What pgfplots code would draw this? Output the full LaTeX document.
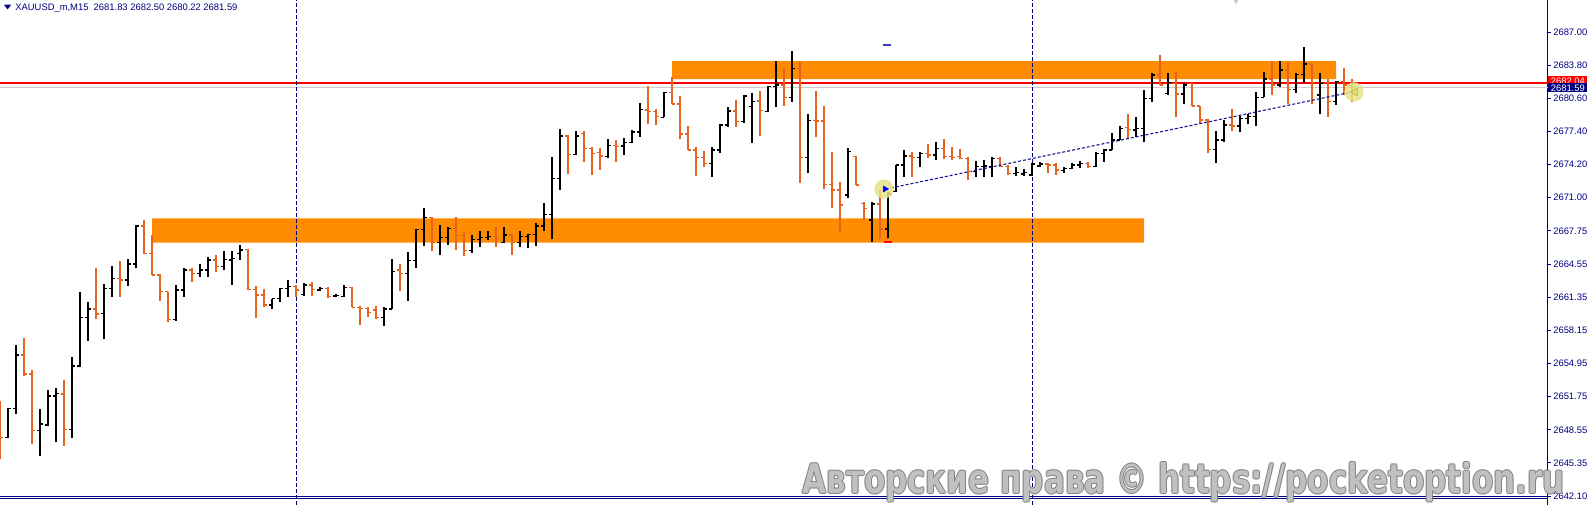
\documentclass[border=0pt]{standalone}
\usepackage{fontspec}
\setmainfont{Liberation Sans}
\newfontfamily\wmfont{DejaVu Sans}
\usepackage{pgfplots}
\pgfplotsset{compat=1.18}
\usepackage{pgfplotstable}
\definecolor{barorange}{RGB}{232,100,30}
\definecolor{zone}{RGB}{255,140,0}
\definecolor{mtnavy}{RGB}{0,0,128}
\definecolor{trend}{RGB}{20,20,150}
\definecolor{hilite}{RGB}{228,228,140}
\definecolor{bidgray}{RGB}{205,205,205}
\definecolor{olivemark}{RGB}{190,190,60}
\definecolor{bluemark}{RGB}{60,60,200}
\definecolor{wmdark}{RGB}{120,120,120}
\definecolor{wmlight}{RGB}{200,200,200}
\pgfdeclareplotmark{otick}{\pgfpathmoveto{\pgfpoint{-1.6pt}{0pt}}\pgfpathlineto{\pgfpoint{0pt}{0pt}}\pgfusepathqstroke}
\pgfdeclareplotmark{ctick}{\pgfpathmoveto{\pgfpoint{0pt}{0pt}}\pgfpathlineto{\pgfpoint{1.6pt}{0pt}}\pgfusepathqstroke}

% bullish bars (close above open)
\pgfplotstableread{
x O H L C
8 2647.88 2650.67 2647.78 2650.67
16 2650.67 2656.79 2650.10 2655.82
40 2648.52 2650.61 2646.11 2649.16
48 2649.07 2652.44 2648.97 2651.87
56 2651.87 2652.61 2647.46 2652.12
72 2648.65 2655.63 2647.84 2654.76
80 2654.76 2661.94 2654.70 2659.46
88 2659.46 2660.94 2657.21 2660.26
104 2659.84 2662.64 2657.34 2662.23
112 2662.23 2664.41 2661.45 2663.22
128 2663.06 2665.06 2662.48 2664.61
136 2664.61 2668.34 2664.19 2668.27
176 2659.27 2662.58 2659.14 2662.10
184 2662.10 2664.19 2661.45 2664.03
200 2663.71 2664.57 2663.32 2664.03
208 2664.03 2665.31 2663.38 2664.99
224 2664.35 2665.89 2664.03 2665.06
232 2664.99 2665.89 2662.58 2665.15
240 2665.64 2666.44 2664.99 2665.96
272 2660.65 2661.26 2660.23 2661.26
280 2661.26 2662.32 2660.91 2662.26
288 2662.26 2663.06 2661.45 2662.42
304 2661.68 2662.74 2661.52 2662.58
320 2662.10 2662.42 2662.03 2662.26
336 2661.52 2661.71 2661.39 2661.58
344 2661.45 2662.55 2661.39 2662.35
384 2659.46 2660.42 2658.65 2660.26
392 2660.26 2665.06 2660.23 2663.87
408 2663.71 2665.73 2661.07 2664.96
416 2664.96 2667.95 2664.25 2667.95
424 2667.95 2669.98 2666.38 2669.11
440 2666.70 2668.34 2665.51 2667.18
448 2667.18 2668.21 2666.47 2668.05
472 2665.93 2667.37 2665.64 2666.99
480 2666.99 2667.76 2666.28 2667.15
488 2667.18 2667.76 2666.89 2667.24
504 2666.67 2668.15 2666.60 2667.41
520 2666.67 2667.76 2666.22 2667.24
528 2667.24 2667.50 2666.12 2667.44
536 2667.44 2668.56 2666.38 2668.27
544 2668.27 2670.46 2667.82 2669.40
552 2669.40 2674.90 2666.99 2672.88
560 2672.88 2677.60 2671.78 2676.96
576 2675.19 2677.48 2675.13 2676.96
608 2674.97 2676.64 2674.81 2676.06
624 2676.00 2676.74 2675.13 2676.35
632 2676.35 2677.54 2676.25 2677.35
640 2677.35 2680.11 2676.90 2679.54
664 2678.76 2681.24 2678.76 2681.14
712 2674.32 2675.87 2672.97 2675.61
720 2675.61 2678.12 2675.29 2678.02
728 2678.02 2679.79 2677.86 2679.38
744 2678.35 2680.92 2678.18 2680.82
752 2679.79 2681.14 2676.32 2680.28
768 2679.31 2681.79 2679.25 2681.72
776 2681.72 2684.20 2679.79 2681.88
792 2680.69 2685.17 2680.28 2683.49
808 2674.90 2679.09 2673.36 2678.44
848 2671.27 2675.77 2670.95 2675.45
872 2668.85 2670.56 2666.76 2670.40
888 2667.99 2671.59 2667.08 2671.36
896 2671.59 2674.16 2671.59 2674.16
904 2674.16 2675.61 2673.04 2675.03
920 2674.90 2675.45 2673.94 2675.29
936 2675.13 2676.41 2674.65 2675.77
976 2673.52 2674.58 2673.04 2674.00
984 2674.00 2674.65 2672.97 2674.07
992 2674.00 2674.97 2672.97 2674.81
1016 2673.36 2673.94 2673.10 2673.42
1024 2673.29 2673.81 2673.10 2673.46
1032 2673.20 2674.32 2673.10 2674.26
1040 2674.07 2674.48 2673.94 2674.26
1064 2673.62 2674.00 2673.42 2673.84
1072 2673.84 2674.32 2673.74 2674.16
1080 2674.16 2674.58 2673.84 2674.32
1096 2674.00 2675.45 2674.00 2675.29
1104 2675.29 2675.68 2674.48 2675.61
1112 2675.61 2677.22 2675.61 2676.58
1120 2676.58 2677.93 2676.58 2677.70
1136 2677.54 2678.76 2676.90 2677.70
1144 2677.70 2681.40 2676.41 2680.60
1152 2680.60 2683.01 2680.28 2682.85
1168 2681.08 2683.01 2680.92 2682.11
1184 2681.02 2682.05 2680.05 2681.88
1216 2675.68 2677.48 2674.39 2676.58
1224 2676.58 2678.51 2676.41 2678.02
1240 2677.93 2678.89 2677.38 2678.67
1248 2678.67 2679.09 2678.12 2678.83
1256 2678.83 2681.24 2677.93 2680.69
1264 2680.69 2683.11 2680.69 2682.46
1280 2681.88 2684.20 2681.66 2683.33
1296 2681.47 2683.08 2681.08 2682.91
1304 2682.91 2685.58 2682.11 2683.91
1320 2680.92 2683.01 2679.09 2682.05
1336 2680.28 2682.30 2679.95 2682.21
}\upbars

% bearish bars (close below open)
\pgfplotstableread{
x O H L C
0 2650.84 2651.38 2645.75 2647.88
24 2655.82 2657.50 2653.80 2653.99
32 2653.99 2654.37 2647.20 2648.52
64 2652.06 2653.41 2647.07 2648.65
96 2660.26 2664.22 2659.27 2659.78
120 2663.22 2664.93 2661.39 2663.06
144 2668.27 2668.85 2665.57 2665.64
152 2665.64 2667.41 2663.55 2663.55
160 2663.55 2663.64 2661.07 2661.94
168 2661.94 2661.94 2659.04 2659.27
192 2664.03 2664.19 2662.90 2663.71
216 2664.99 2665.48 2663.87 2664.35
248 2666.02 2666.05 2662.10 2662.16
256 2662.16 2662.48 2659.43 2661.61
264 2661.61 2662.16 2660.42 2660.65
296 2662.42 2662.58 2661.45 2662.10
312 2662.58 2662.90 2661.55 2662.16
328 2662.26 2662.35 2661.29 2661.45
352 2662.35 2662.35 2660.42 2660.42
360 2660.42 2660.55 2658.72 2660.33
368 2660.33 2660.42 2659.46 2659.91
376 2660.17 2660.55 2659.27 2659.46
400 2664.03 2664.61 2662.03 2663.71
432 2669.11 2669.18 2665.89 2666.70
456 2668.05 2669.11 2665.99 2667.37
464 2667.37 2667.66 2665.35 2665.93
496 2667.24 2668.15 2666.28 2667.08
512 2667.41 2667.50 2665.51 2666.67
568 2676.96 2677.06 2673.29 2675.19
584 2677.22 2677.48 2674.48 2675.77
592 2675.77 2675.87 2673.20 2675.29
600 2675.35 2675.77 2673.68 2675.03
616 2676.06 2676.58 2674.48 2675.93
648 2679.47 2681.79 2678.12 2679.31
656 2679.31 2679.54 2678.02 2678.83
672 2681.14 2682.69 2680.05 2680.05
680 2680.05 2680.82 2676.64 2677.16
688 2677.16 2677.93 2675.61 2675.61
696 2675.61 2675.87 2673.10 2674.90
704 2674.90 2675.55 2674.00 2674.32
736 2679.38 2680.44 2677.86 2678.35
760 2680.34 2681.31 2677.00 2679.41
784 2681.88 2683.49 2679.89 2680.69
800 2683.49 2684.14 2672.46 2674.90
816 2678.44 2681.31 2676.90 2678.41
824 2678.41 2679.86 2671.81 2672.30
832 2672.30 2675.45 2669.98 2671.75
840 2671.75 2672.55 2667.57 2670.30
856 2674.97 2675.03 2672.23 2672.23
864 2670.46 2670.62 2668.85 2669.98
880 2670.40 2671.75 2667.02 2667.99
912 2675.03 2675.45 2673.04 2674.90
928 2675.29 2676.19 2674.81 2675.13
944 2675.77 2676.64 2674.71 2674.97
952 2674.97 2675.87 2674.65 2674.90
960 2674.97 2675.71 2674.71 2674.81
968 2674.81 2674.97 2672.71 2673.52
1000 2674.81 2674.97 2674.00 2674.00
1008 2674.00 2674.16 2673.20 2673.36
1048 2674.26 2674.39 2673.42 2674.16
1056 2674.16 2674.32 2673.20 2673.68
1088 2674.32 2674.45 2673.84 2674.00
1128 2677.80 2679.09 2676.64 2677.61
1160 2682.85 2684.78 2681.88 2681.88
1176 2682.05 2683.17 2678.76 2681.02
1192 2682.05 2682.11 2679.86 2679.86
1200 2679.86 2679.86 2678.18 2678.51
1208 2678.51 2678.57 2675.35 2675.68
1232 2678.02 2679.57 2677.48 2677.93
1272 2682.46 2684.20 2680.92 2681.88
1288 2683.33 2684.14 2680.02 2681.47
1312 2683.91 2683.91 2680.02 2682.11
1328 2682.11 2682.46 2678.83 2680.28
1344 2682.21 2683.49 2680.92 2681.88
1352 2681.83 2682.50 2680.22 2681.59
}\downbars

\newcommand{\wmtext}{\resizebox{381pt}{15.5pt}{\wmfont\bfseries Авторские права © https://pocketoption.ru}}

\begin{document}
\begin{tikzpicture}
\begin{axis}[
  at={(0pt,4pt)}, anchor=south west,
  scale only axis, width=773.85pt, height=248.5pt,
  xmin=0, xmax=1547.7, ymin=2642.116, ymax=2690.089,
  clip=false,
  axis x line=none, axis y line*=right,
  y axis line style={draw=mtnavy, line width=0.6pt},
  ytick={2687.0,2683.8,2680.6,2677.4,2674.2,2671.0,2667.8,2664.6,2661.4,2658.2,2655.0,2651.8,2648.6,2645.4,2642.2},
  yticklabels={2687.00,2683.80,2680.60,2677.40,2674.20,2671.00,2667.75,2664.55,2661.35,2658.15,2654.95,2651.75,2648.55,2645.35,2642.10},
  tick align=outside, major tick length=1.6pt,
  ytick style={draw=mtnavy, line width=0.5pt},
  yticklabel style={font=\fontsize{4.7}{5}\selectfont, text=mtnavy, inner sep=0pt, anchor=west, xshift=1pt},
]
% zones
\addplot[draw=none, fill=zone] coordinates {(152,2669.02) (1144,2669.02) (1144,2666.66) (152,2666.66) (152,2669.02)};
\addplot[draw=none, fill=zone] coordinates {(672,2684.20) (1336,2684.20) (1336,2682.46) (672,2682.46) (672,2684.20)};
% horizontal price lines
\addplot[bidgray, line width=0.5pt] coordinates {(0,2681.64) (1547.7,2681.64)};
\addplot[red, line width=1pt] coordinates {(0,2682.12) (1547.7,2682.12)};
% period separators
\addplot[mtnavy, line width=0.45pt, dash pattern=on 2pt off 1pt] coordinates {(296,2641.34) (296,2690.089)};
\addplot[mtnavy, line width=0.45pt, dash pattern=on 2pt off 1pt] coordinates {(1032,2641.34) (1032,2690.089)};
% bars: high-low
\addplot[draw=none, error bars/.cd, y dir=plus, y explicit, error mark=none,
  error bar style={draw=black, line width=0.65pt}]
  table[x=x, y=L, y error expr=\thisrow{H}-\thisrow{L}] {\upbars};
\addplot[draw=none, error bars/.cd, y dir=plus, y explicit, error mark=none,
  error bar style={draw=barorange, line width=0.65pt}]
  table[x=x, y=L, y error expr=\thisrow{H}-\thisrow{L}] {\downbars};
% open / close ticks
\addplot[black, only marks, mark=otick, mark options={line width=0.65pt}] table[x=x, y=O] {\upbars};
\addplot[black, only marks, mark=ctick, mark options={line width=0.65pt}] table[x=x, y=C] {\upbars};
\addplot[barorange, only marks, mark=otick, mark options={line width=0.65pt}] table[x=x, y=O] {\downbars};
\addplot[barorange, only marks, mark=ctick, mark options={line width=0.65pt}] table[x=x, y=C] {\downbars};
% trend line and markers
\addplot[trend, line width=0.55pt, dash pattern=on 1.5pt off 1pt] coordinates {(886,2671.85) (1352,2681.21)};
\addplot[hilite, only marks, mark=*, mark size=4.6pt, mark options={draw=hilite, fill=hilite, opacity=0.85}] coordinates {(884,2671.85) (1354,2681.21)};
\addplot[blue, only marks, mark=triangle*, mark size=1.6pt, mark options={rotate=-90, draw=blue, fill=blue}] coordinates {(885,2671.85)};
\addplot[blue, only marks, mark=|, mark size=1.4pt, mark options={draw=blue, line width=0.5pt}] coordinates {(883.5,2671.85)};
\addplot[olivemark, only marks, mark=triangle, mark size=2pt, mark options={rotate=90, draw=olivemark, line width=0.5pt}] coordinates {(1355,2681.21)};
\addplot[bluemark, only marks, mark=-, mark size=1.8pt, mark options={draw=bluemark, line width=1pt}] coordinates {(887,2685.79)};
\addplot[red, only marks, mark=-, mark size=1.8pt, mark options={draw=red, line width=1pt}] coordinates {(888,2666.70)};
\addplot[bidgray, only marks, mark=triangle*, mark size=1.6pt, mark options={rotate=180, draw=bidgray, fill=bidgray}] coordinates {(1236,2690.05)};
\end{axis}
% bottom double line and lower pane edge
\draw[mtnavy, line width=0.5pt] (0,4.5pt) -- (773.85pt,4.5pt);
\draw[mtnavy, line width=0.5pt] (0,3.4pt) -- (773.85pt,3.4pt);
\draw[mtnavy, line width=0.6pt] (773.85pt,0) -- (773.85pt,4pt);
% price labels
\fill[red] (774.2pt,214.4pt) rectangle (793.5pt,209.6pt);
\node[text=white, font=\fontsize{4.7}{5}\selectfont, inner sep=0pt] at (783.9pt,211.9pt) {2682.04};
\fill[mtnavy] (774.2pt,210.9pt) rectangle (793.5pt,206.3pt);
\node[text=white, font=\fontsize{4.7}{5}\selectfont, inner sep=0pt] at (783.9pt,208.6pt) {2681.59};
% title
\fill[mtnavy] (2pt,250.2pt) -- (5.6pt,250.2pt) -- (3.8pt,247.8pt) -- cycle;
\node[anchor=west, text=mtnavy, font=\fontsize{4.7}{5}\selectfont, inner sep=0pt] at (7.5pt,248.6pt) {XAUUSD\_m,M15\ \ 2681.83 2682.50 2680.22 2681.59};
% watermark
\begin{scope}[opacity=0.9]
\foreach \dx/\dy in {0.5/0,-0.5/0,0/0.5,0/-0.5} {
  \node[anchor=base west, inner sep=0pt, text=wmdark] at (401pt+\dx pt,6pt+\dy pt) {\wmtext};
}
\node[anchor=base west, inner sep=0pt, text=wmlight] at (401pt,6pt) {\wmtext};
\end{scope}
\pgfresetboundingbox
\useasboundingbox (0,0) rectangle (793.5pt,252.5pt);
\end{tikzpicture}
\end{document}
